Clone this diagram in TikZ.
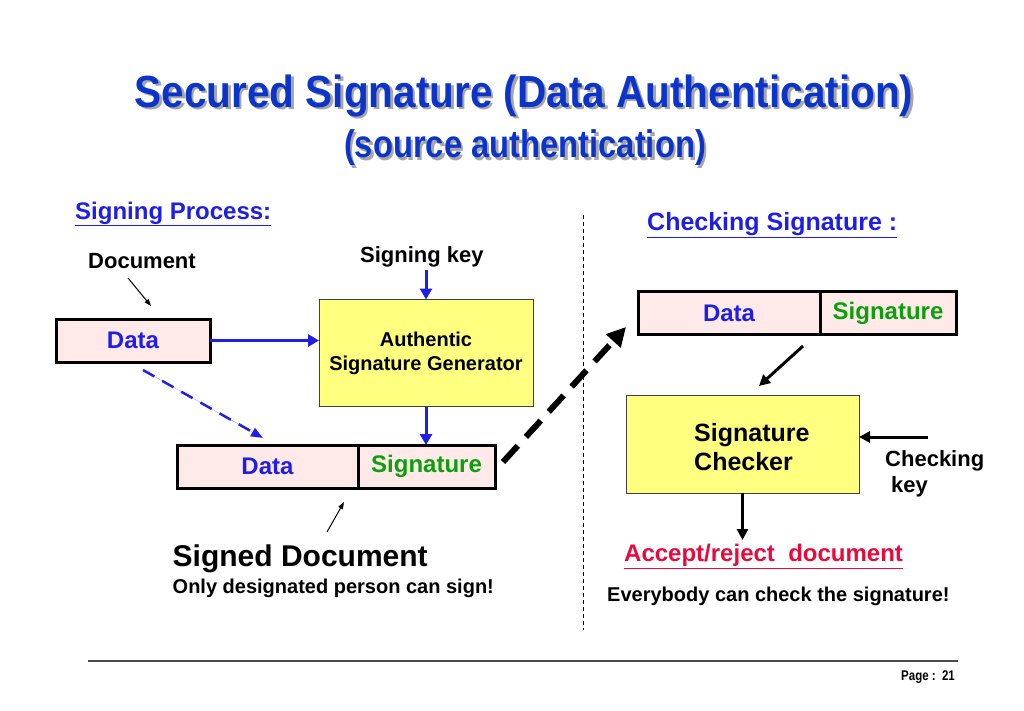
\documentclass[tikz,border=0pt]{standalone}
\usepackage{fontspec}
\setmainfont{Liberation Sans}
\newfontfamily\titlefont[FakeStretch=0.9]{Liberation Sans}
\newfontfamily\subtfont[FakeStretch=0.85]{Liberation Sans}
\newfontfamily\pagefont[FakeStretch=0.82]{Liberation Sans}
\usetikzlibrary{arrows.meta}
\usetikzlibrary{positioning}

\definecolor{ttlblue}{RGB}{12,52,200}
\definecolor{txtblue}{RGB}{30,30,230}
\definecolor{siggreen}{RGB}{10,160,10}
\definecolor{recpink}{RGB}{255,233,233}
\definecolor{boxyellow}{RGB}{255,255,128}
\definecolor{okred}{RGB}{232,10,60}

\newcommand{\fsz}[2]{\fontsize{#1}{#2}\selectfont}

\begin{document}
\begin{tikzpicture}[x=1pt,y=-1pt,
  rec/.style={draw,line width=3pt,fill=recpink,outer sep=0pt,minimum height=43pt,font=\bfseries\fsz{24}{29}},
  proc/.style={draw=black!75,line width=1pt,fill=boxyellow,outer sep=0pt},
  lbl/.style={inner sep=0pt,font=\bfseries\fsz{22}{26}},
  bluearr/.style={-{Triangle[length=11pt,width=12pt]},line width=3pt,draw=txtblue,fill=txtblue},
  blackarr/.style={-{Triangle[length=11pt,width=11pt]},line width=3pt},
  thinarr/.style={-{Triangle[length=7pt,width=5pt]},line width=1pt}]
  \useasboundingbox (0,0) rectangle (1024,711);

  % title with shadow
  \node[inner sep=0pt,anchor=base,text=black!35,font=\titlefont\bfseries\fsz{45}{50}] (ttlS) at (526.5,110) {Secured Signature (Data Authentication)};
  \node[inner sep=0pt,anchor=base,text=ttlblue,font=\titlefont\bfseries\fsz{45}{50}] (ttl) at (524,107.5) {Secured Signature (Data Authentication)};
  \node[inner sep=0pt,anchor=base,text=black!35,font=\subtfont\bfseries\fsz{38.5}{44}] (subS) at (527.5,160.5) {(source authentication)};
  \node[inner sep=0pt,anchor=base,text=ttlblue,font=\subtfont\bfseries\fsz{38.5}{44}] (sub) at (525,158) {(source authentication)};

  % signing side
  \node[lbl,anchor=base west,text=txtblue,font=\bfseries\fsz{24}{28}] (sproc) at (75,219) {\underline{Signing Process:}};
  \node[lbl,anchor=base west] (doc) at (88,268) {Document};
  \node[lbl,anchor=base west] (skey) at (360,262) {Signing key};
  \node[rec,minimum width=154pt,text=txtblue] (data1) at (133,340.5) {Data};
  \node[proc,minimum width=214pt,minimum height=107pt,align=center,font=\bfseries\fsz{20}{24}] (gen) at (426,353) {Authentic\\Signature Generator};
  \node[rec,minimum width=181pt,text=txtblue] (data2) at (267.5,466.5) {Data};
  \node[rec,minimum width=137pt,text=siggreen,right=0pt of data2] (sig2) {Signature};
  \node[inner sep=0pt,anchor=base west,font=\bfseries\fsz{30}{34}] (signed) at (172.5,566.5) {Signed Document};
  \node[lbl,anchor=base west,font=\bfseries\fsz{20}{24}] (only) at (172.5,593) {Only designated person can sign!};

  \coordinate (docA) at (128,278);
  \coordinate (docB) at (151,306);
  \coordinate (keyA) at (426,270);
  \coordinate (dshA) at (143,370);
  \coordinate (dshB) at (263,438);
  \coordinate (sgnA) at (327,532);
  \coordinate (sgnB) at (344,502);

  \draw[thinarr] (docA)--(docB);
  \draw[bluearr] (keyA)--(gen.north);
  \draw[bluearr] (data1.east)--(data1.east -| gen.west);
  \draw[-{Triangle[length=12pt,width=9pt]},draw=txtblue,fill=txtblue,line width=2.5pt,dash pattern=on 13pt off 9pt] (dshA)--(dshB);
  \draw[bluearr] (gen.south)--(gen.south |- sig2.north);
  \draw[thinarr] (sgnA)--(sgnB);

  % divider
  \coordinate (divT) at (583,215);
  \coordinate (divB) at (583,630);
  \draw[thin,dash pattern=on 4pt off 3pt] (divT)--(divB);

  % checking side
  \node[lbl,anchor=base west,text=txtblue,font=\bfseries\fsz{25}{29}] (csig) at (647,231) {\underline{Checking Signature :}};
  \node[rec,minimum width=182pt,text=txtblue] (data3) at (729,313) {Data};
  \node[rec,minimum width=136pt,text=siggreen,right=0pt of data3] (sig3) {Signature};
  \node[proc,minimum width=233pt,minimum height=98pt] (chk) at (742.5,444) {};
  \node[inner sep=0pt,anchor=west,align=left,font=\bfseries\fsz{25}{29}] (chktxt) at (694,447) {Signature\\Checker};
  \node[lbl,anchor=west,align=left] (ckey) at (885,474) {Checking\\\hspace*{6pt}key};
  \node[lbl,anchor=base west,text=okred,font=\bfseries\fsz{24}{28}] (accept) at (624,561.5) {\underline{Accept/reject\ \ document}};
  \node[lbl,anchor=base west,font=\bfseries\fsz{20}{24}] (every) at (607,601.5) {Everybody can check the signature!};

  \coordinate (bigA) at (503,462);
  \coordinate (bigB) at (626,327);
  \coordinate (recA) at (803,346);
  \coordinate (recB) at (759,386);
  \coordinate (ckA) at (928,437);
  \coordinate (accB) at (742.5,540);

  \draw[-{Triangle[length=19pt,width=19pt]},line width=6pt,dash pattern=on 22pt off 12pt] (bigA)--(bigB);
  \draw[blackarr] (recA)--(recB);
  \draw[blackarr] (ckA)--(ckA -| chk.east);
  \draw[blackarr] (chk.south)--(accB);

  % footer
  \coordinate (ftA) at (88,661);
  \coordinate (ftB) at (958,661);
  \draw[black!70,line width=1.5pt] (ftA)--(ftB);
  \node[inner sep=0pt,anchor=base east,font=\pagefont\bfseries\fsz{14}{16}] (page) at (955,680) {Page :\ \ 21};
\end{tikzpicture}
\end{document}
